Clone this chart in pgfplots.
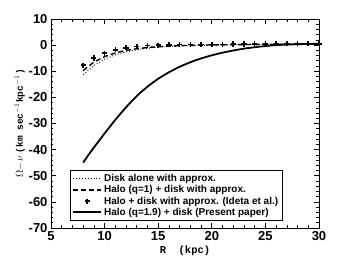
\documentclass[border=0pt]{standalone}
\usepackage{fontspec}
\setmainfont{Liberation Sans}
\newfontfamily\monob{Liberation Mono}
\usepackage{pgfplots}
\pgfplotsset{compat=1.18}
\pgfplotsset{
  longleg/.style={legend image code/.code={\draw[##1] plot coordinates {(0pt,0pt)(14pt,0pt)(28pt,0pt)};}},
  plusleg/.style={legend image code/.code={\draw[##1] plot coordinates {(14pt,0pt)};}},
}
\begin{document}
\begin{tikzpicture}
\begin{axis}[
  scale only axis, width=268pt, height=209pt,
  xmin=5, xmax=30, ymin=-70, ymax=10,
  xtick={5,10,...,30}, ytick={-70,-60,...,10},
  minor x tick num=4, minor y tick num=4,
  tick align=inside, major tick length=5pt, minor tick length=2.5pt,
  tick style={black, line width=0.6pt},
  axis line style={black, line width=0.9pt},
  ticklabel style={font=\fontsize{13}{14}\selectfont\bfseries},
  /pgf/number format/assume math mode=true,
  xlabel={\monob\bfseries\fontsize{10.5}{11}\selectfont R~~(kpc)},
  ylabel={$\Omega\!-\!\nu$~{\monob\bfseries\fontsize{9.5}{10}\selectfont(km sec$^{-1}$kpc$^{-1}$)}},
  xlabel style={yshift=2pt},
  ylabel style={yshift=-3pt},
  legend style={at={(0.071,0.033)}, anchor=south west, draw=black, line width=0.7pt,
    font=\fontsize{10}{11}\selectfont\bfseries, row sep=-1.5pt, inner sep=2pt,
    cells={anchor=west}},
  longleg,
]
\addplot[black, dotted, line width=0.9pt] coordinates {
(8,-11.3)(9,-7.8)(10,-5.4)(11,-3.7)(12,-2.6)(13,-1.8)(14,-1.2)(15,-0.8)(16,-0.5)(17,-0.3)(18,-0.2)(19,-0.1)(20,0.0)(21,0.1)(22,0.1)(23,0.2)(24,0.2)(25,0.3)(26,0.3)(27,0.3)(28,0.4)(29,0.4)(30,0.4)};
\addlegendentry{Disk alone with approx.}
\addplot[black, dash pattern=on 5pt off 3pt, line width=1.4pt] coordinates {
(8,-9.7)(9,-6.5)(10,-4.4)(11,-3.0)(12,-2.0)(13,-1.4)(14,-0.9)(15,-0.6)(16,-0.4)(17,-0.2)(18,-0.1)(19,0.0)(20,0.1)(21,0.1)(22,0.2)(23,0.2)(24,0.3)(25,0.3)(26,0.3)(27,0.4)(28,0.4)(29,0.4)(30,0.4)};
\addlegendentry{Halo (q=1) + disk with approx.}
\addplot[black, only marks, mark=+, mark size=2.6pt, line width=1.6pt, plusleg] coordinates {
(8,-7.7)(9,-4.9)(10,-3.1)(11,-1.8)(12,-1.0)(13,-0.5)(14,-0.2)(15,0.0)(16,0.1)(17,0.2)(18,0.2)(19,0.3)(20,0.3)(21,0.3)(22,0.4)(23,0.4)(24,0.4)(25,0.4)(26,0.5)(27,0.5)(28,0.5)(29,0.5)(30,0.5)};
\addlegendentry{Halo + disk with approx. (Ideta et al.)}
\addplot[black, smooth, line width=1.8pt] coordinates {
(8,-45)(8.5,-42)(9,-39.2)(9.5,-36.5)(10,-33.8)(11,-28.6)(12,-23.8)(13,-19.5)(14,-15.9)(15,-12.9)(16,-10.4)(17,-8.3)(18,-6.55)(19,-5.1)(20,-3.9)(21,-2.9)(22,-2.05)(23,-1.35)(24,-0.8)(25,-0.35)(26,0.0)(27,0.2)(28,0.35)(29,0.45)(30,0.5)};
\addlegendentry{Halo (q=1.9) + disk (Present paper)}
\end{axis}
\pgfresetboundingbox
\path (current axis.south west) ++(-51pt,-34pt) rectangle ++(354pt,262pt);
\end{tikzpicture}
\end{document}
